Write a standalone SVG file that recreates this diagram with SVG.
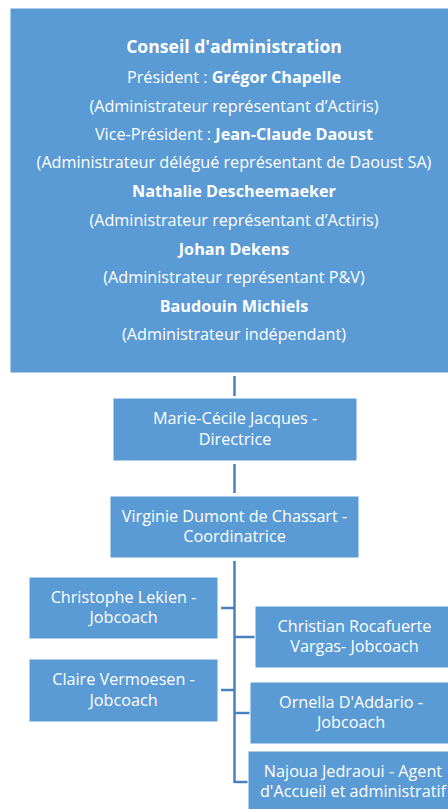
<svg xmlns="http://www.w3.org/2000/svg" width="448" height="809" viewBox="0 0 448 809">
<style>
.box{fill:#5b9bd5;stroke:#ffffff;stroke-width:1}
.t{font-family:"Open Sans","Liberation Sans",sans-serif;font-size:16.2px;fill:#ffffff;text-anchor:middle}
.b{font-weight:bold}
.h{font-size:17.6px}
.c{stroke:#4a80bd;stroke-width:2.5;fill:none}
</style>
<rect width="448" height="809" fill="#ffffff"/>
<g id="connectors">
<line class="c" x1="234.5" y1="376" x2="234.5" y2="396"/>
<line class="c" x1="234.5" y1="464" x2="234.5" y2="493"/>
<line class="c" x1="234.5" y1="561" x2="234.5" y2="783"/>
<line class="c" x1="221" y1="608" x2="234.5" y2="608"/>
<line class="c" x1="221" y1="690" x2="234.5" y2="690"/>
<line class="c" x1="234.5" y1="637" x2="255" y2="637"/>
<line class="c" x1="234.5" y1="713" x2="250" y2="713"/>
<line class="c" x1="234.5" y1="782" x2="248" y2="782"/>
</g>
<g id="conseil">
<rect class="box" x="10" y="8" width="448" height="365"/>
<text class="t b h" x="234" y="53">Conseil d'administration</text>
<text class="t" x="234" y="83">Président : <tspan class="b">Grégor Chapelle</tspan></text>
<text class="t" x="234" y="112">(Administrateur représentant d’Actiris)</text>
<text class="t" x="234" y="140">Vice-Président : <tspan class="b">Jean-Claude Daoust</tspan></text>
<text class="t" x="234" y="168">(Administrateur délégué représentant de Daoust SA)</text>
<text class="t b" x="234" y="197">Nathalie Descheemaeker</text>
<text class="t" x="234" y="226">(Administrateur représentant d’Actiris)</text>
<text class="t b" x="234" y="255">Johan Dekens</text>
<text class="t" x="234" y="283">(Administrateur représentant P&amp;V)</text>
<text class="t b" x="234" y="312">Baudouin Michiels</text>
<text class="t" x="234" y="340">(Administrateur indépendant)</text>
</g>
<g id="directrice">
<rect class="box" x="113" y="398" width="244" height="63"/>
<text class="t" x="235" y="424">Marie-Cécile Jacques -</text>
<text class="t" x="235" y="445">Directrice</text>
</g>
<g id="coordinatrice">
<rect class="box" x="110" y="496" width="249" height="62"/>
<text class="t" x="234.5" y="522">Virginie Dumont de Chassart -</text>
<text class="t" x="234.5" y="542">Coordinatrice</text>
</g>
<g id="lekien">
<rect class="box" x="29" y="577" width="189" height="62"/>
<text class="t" x="123.5" y="603">Christophe Lekien -</text>
<text class="t" x="123.5" y="623">Jobcoach</text>
</g>
<g id="vermoesen">
<rect class="box" x="29" y="659" width="189" height="63"/>
<text class="t" x="123.5" y="685">Claire Vermoesen -</text>
<text class="t" x="123.5" y="706">Jobcoach</text>
</g>
<g id="rocafuerte">
<rect class="box" x="255" y="606" width="199" height="62"/>
<text class="t" x="354.5" y="632">Christian Rocafuerte</text>
<text class="t" x="354.5" y="652">Vargas- Jobcoach</text>
</g>
<g id="daddario">
<rect class="box" x="250" y="682" width="202" height="62"/>
<text class="t" x="351" y="708">Ornella D'Addario -</text>
<text class="t" x="351" y="728">Jobcoach</text>
</g>
<g id="jedraoui">
<rect class="box" x="248" y="751" width="210" height="70"/>
<text class="t" x="353" y="777">Najoua Jedraoui - Agent</text>
<text class="t" x="353" y="797">d'Accueil et administratif</text>
</g>
</svg>
